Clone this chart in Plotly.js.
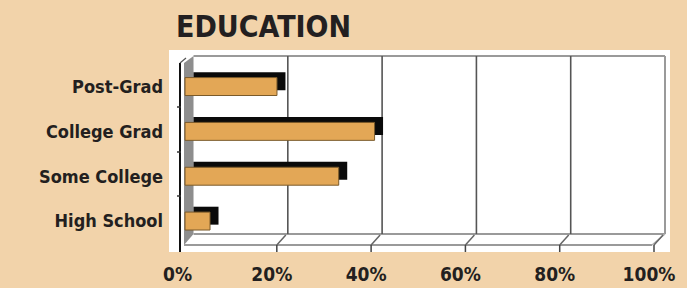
<!DOCTYPE html>
<html>
<head>
<meta charset="utf-8">
<script src="https://cdn.plot.ly/plotly-3.0.1.min.js"></script>
<style>
html,body{margin:0;padding:0;background:#f2d3aa;}
#chart{width:687px;height:288px;}
</style>
</head>
<body>
<div id="chart"></div>
<script>
// ---- data ----
var categories = ["High School", "Some College", "College Grad", "Post-Grad"];
var shares = [5.3, 32.6, 40.2, 19.5];
var tickValues = [0, 20, 40, 60, 80, 100];
var tickLabels = ["0%", "20%", "40%", "60%", "80%", "100%"];
var titleText = "EDUCATION";

// ---- style constants ----
var W = 687, H = 288;
var M = {l: 169, r: 17, t: 50, b: 36};
var PW = W - M.l - M.r, PH = H - M.t - M.b;
var FONT = "'DejaVu Sans Condensed', 'Liberation Sans Narrow', sans-serif";
var INK = "#231f20";
var DEPTH = 1.8;      // 3D depth offset in axis units (x)
var X_RANGE = [-5.2, 101.06];
var Y_RANGE = [-0.69, 3.815];

function px(x){ return (x - M.l) / PW; }
function py(y){ return (H - M.b - y) / PH; }
function ax(v){ return M.l + (v - X_RANGE[0]) / (X_RANGE[1] - X_RANGE[0]) * PW; }

var shapes = [];
var backL = ax(0), backR = ax(100), wallTop = 56, floorBack = 234, floorFront = 245;
function line(x0,y0,x1,y1,color,w){
  shapes.push({type:'line', xref:'paper', yref:'paper', x0:px(x0), y0:py(y0), x1:px(x1), y1:py(y1),
    line:{color:color, width:w}, layer:'below'});
}
// gray left wall
shapes.push({type:'path', xref:'paper', yref:'paper', layer:'below',
  path:'M '+px(184)+' '+py(63)+' L '+px(backL)+' '+py(wallTop)+' L '+px(backL)+' '+py(floorBack)+' L '+px(184)+' '+py(floorFront)+' Z',
  fillcolor:'#8e8e8e', line:{width:0}});
line(backL, wallTop, backR, wallTop, '#9a9a9a', 2);
line(backR, wallTop, backR, floorBack, '#9a9a9a', 2);
line(backL, floorBack, backR, floorBack, '#9a9a9a', 2);
line(184, floorFront, backR - 13, floorFront, '#9a9a9a', 2);
line(backR, floorBack, backR - 13, floorFront, '#b0b0b0', 1.5);
tickValues.forEach(function(t){
  var gx = ax(t);
  if (t > 0 && t < 100) line(gx, wallTop, gx, floorBack, '#555555', 1.6);
  if (t > 0) {
    line(gx - 2, floorBack + 1, gx - 11, floorFront, '#666666', 1.5);
    line(gx - 11, floorFront, gx - 11, 252, '#444444', 1.5);
  }
});
line(180, 63, 180, 252, '#111111', 2);
line(180, 63, 186, 58, '#555555', 1.2);
[107, 152, 196].forEach(function(y){ line(177, y, 181, y, '#333333', 1.5); });

var backFace = {
  type: 'bar', orientation: 'h',
  y: categories, x: shares, base: 0,
  width: 0.4, offset: -0.08,
  marker: {color: '#0a0a0a', line: {width: 0}},
  hoverinfo: 'skip'
};
var frontFace = {
  type: 'bar', orientation: 'h',
  y: categories, x: shares, base: -DEPTH,
  width: 0.4, offset: -0.2,
  marker: {color: '#e3a756', line: {color: '#7a5a2a', width: 1}},
  hoverinfo: 'skip'
};

var layout = {
  width: W, height: H,
  margin: M,
  paper_bgcolor: '#f2d3aa',
  plot_bgcolor: '#ffffff',
  showlegend: false,
  barmode: 'overlay',
  font: {family: FONT, color: INK},
  title: {
    text: '<b>' + titleText + '</b>',
    font: {family: FONT, size: 30, color: INK},
    xref: 'container', yref: 'container',
    x: 176 / W, xanchor: 'left',
    y: 1 - 26 / H, yanchor: 'middle',
    pad: {t: 0, b: 0, l: 0, r: 0}
  },
  xaxis: {
    range: X_RANGE,
    tickvals: tickValues, ticktext: tickLabels,
    showgrid: false, zeroline: false, showline: false,
    ticks: '', ticklabelshift: -16, ticklabelstandoff: 9,
    tickfont: {family: FONT, size: 19, color: INK, weight: 'bold'},
    fixedrange: true
  },
  yaxis: {
    type: 'category',
    range: Y_RANGE,
    showgrid: false, zeroline: false, showline: false,
    ticks: '', ticklabelstandoff: 5,
    tickfont: {family: FONT, size: 18, color: INK, weight: 'bold'},
    fixedrange: true
  },
  shapes: shapes
};

Plotly.newPlot('chart', [backFace, frontFace], layout, {displayModeBar: false, staticPlot: true});
</script>
</body>
</html>
